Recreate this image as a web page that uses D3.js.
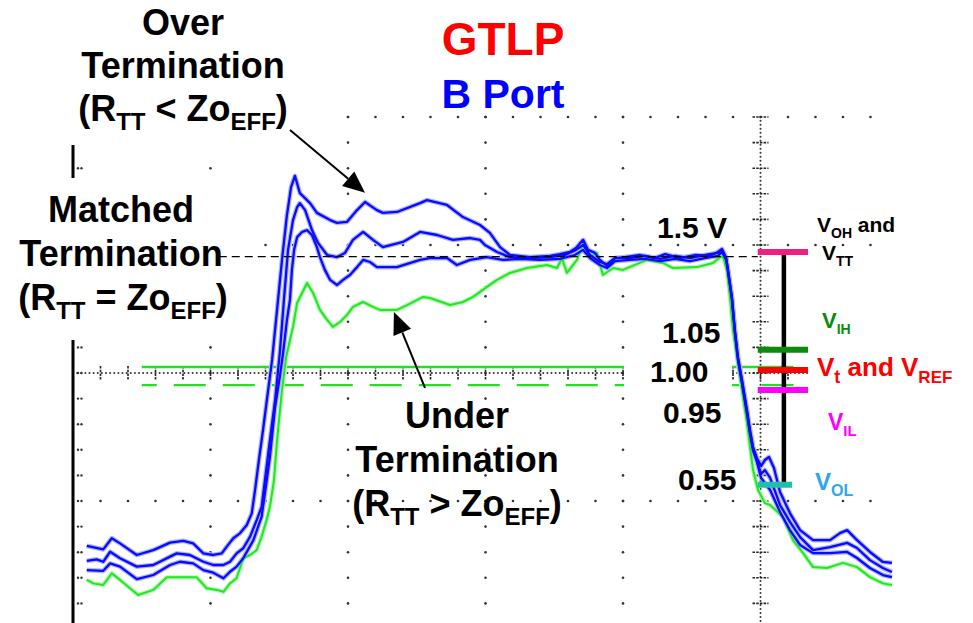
<!DOCTYPE html>
<html><head><meta charset="utf-8">
<script src="https://cdn.jsdelivr.net/npm/d3@7/dist/d3.min.js"></script>
<style>
html,body{margin:0;padding:0;background:#fff;}
svg{display:block;}
text{font-family:Arial,"Liberation Sans",Helvetica,sans-serif;font-weight:bold;white-space:pre;}
</style>
</head><body>
<svg id="c" width="973" height="623"></svg>
<script>
// ---- data: time in ns (1 ns per minor division), level in V ----
const overT = [0.50,1.10,1.41,1.71,2.32,2.92,3.53,4.01,4.37,4.74,5.10,5.41,5.59,5.83,6.07,6.32,6.50,6.62,6.76,6.91,7.05,7.24,7.42,7.60,7.78,7.93,8.07,8.25,8.62,8.87,9.35,9.60,9.96,10.33,10.62,11.05,11.27,11.78,12.62,12.87,13.60,14.18,14.80,15.16,15.53,15.89,16.62,17.35,17.71,18.07,18.29,18.55,18.73,18.98,19.16,19.42,19.71,20.07,20.62,21.16,21.53,22.07,22.62,23.16,23.45,23.60,23.75,23.82,23.96,24.07,24.18,24.33,24.51,24.62,24.73,24.87,25.02,25.16,25.31,25.49,25.71,26.07,26.44,26.91,27.53,27.89,28.15,28.51,28.98,29.45,29.78];
const overV = [0.257,0.242,0.290,0.268,0.218,0.239,0.271,0.279,0.268,0.225,0.218,0.225,0.254,0.290,0.311,0.347,0.397,0.497,0.626,0.755,0.884,1.056,1.271,1.486,1.679,1.799,1.847,1.773,1.730,1.688,1.657,1.645,1.649,1.700,1.735,1.700,1.688,1.692,1.730,1.743,1.722,1.670,1.636,1.602,1.541,1.507,1.498,1.503,1.511,1.520,1.537,1.572,1.529,1.516,1.486,1.460,1.494,1.498,1.507,1.494,1.511,1.494,1.507,1.503,1.520,1.533,1.494,1.443,1.327,1.185,1.069,0.970,0.841,0.755,0.682,0.635,0.600,0.626,0.639,0.592,0.489,0.398,0.325,0.282,0.282,0.312,0.325,0.282,0.231,0.188,0.184];

const matchedT = [0.50,0.86,1.10,1.35,1.71,2.32,2.92,3.53,3.77,4.25,4.74,5.10,5.47,5.71,5.95,6.19,6.44,6.68,6.86,6.98,7.16,7.35,7.53,7.67,7.82,8.00,8.15,8.25,8.44,8.69,8.91,9.24,9.60,9.89,10.18,10.55,10.91,11.27,12.00,12.62,13.24,13.82,14.44,14.80,14.98,15.42,15.89,16.62,17.35,17.89,18.29,18.55,18.80,19.16,19.42,19.71,20.25,20.80,21.35,21.89,22.44,22.98,23.45,23.60,23.75,23.82,23.96,24.07,24.18,24.33,24.51,24.62,24.73,24.87,25.02,25.16,25.35,25.71,26.07,26.44,26.91,27.53,28.15,28.51,28.98,29.45,29.78];
const matchedV = [0.193,0.199,0.189,0.232,0.204,0.168,0.175,0.211,0.225,0.218,0.189,0.175,0.175,0.189,0.225,0.247,0.297,0.368,0.425,0.540,0.712,0.884,1.099,1.314,1.529,1.657,1.713,1.730,1.700,1.614,1.559,1.507,1.498,1.516,1.572,1.606,1.572,1.541,1.563,1.606,1.593,1.572,1.580,1.572,1.550,1.520,1.498,1.494,1.498,1.507,1.529,1.550,1.507,1.477,1.468,1.494,1.494,1.503,1.490,1.503,1.494,1.507,1.516,1.529,1.494,1.438,1.322,1.176,1.064,0.961,0.832,0.746,0.673,0.626,0.566,0.583,0.549,0.433,0.360,0.295,0.239,0.252,0.270,0.248,0.196,0.162,0.145];

const lowBlueT = [0.50,1.10,1.35,1.71,2.32,2.92,3.53,3.89,4.37,4.74,5.10,5.47,5.71,5.95,6.19,6.56,6.86,6.98,7.16,7.35,7.53,7.64,7.78,7.89,7.96,8.04,8.15,8.33,8.51,8.69,8.87,8.98,9.16,9.35,9.60,9.82,10.07,10.33,10.55,10.80,11.05,11.27,11.78,12.62,12.98,13.60,13.96,14.44,15.05,15.64,16.25,16.98,17.71,18.25,18.55,18.80,19.16,19.42,19.71,20.25,20.80,21.35,21.89,22.44,22.98,23.45,23.60,23.75,23.82,23.96,24.07,24.18,24.33,24.51,24.62,24.73,24.87,25.02,25.35,25.71,26.07,26.44,26.91,27.53,28.15,28.51,28.98,29.45,29.78];
const lowBlueV = [0.153,0.150,0.182,0.168,0.114,0.132,0.175,0.189,0.182,0.153,0.142,0.118,0.146,0.168,0.204,0.282,0.383,0.484,0.639,0.854,0.991,1.086,1.228,1.314,1.443,1.529,1.584,1.606,1.614,1.593,1.541,1.498,1.443,1.400,1.378,1.400,1.421,1.455,1.486,1.477,1.455,1.455,1.455,1.486,1.494,1.494,1.464,1.486,1.498,1.486,1.490,1.486,1.490,1.507,1.529,1.494,1.464,1.451,1.481,1.486,1.490,1.481,1.490,1.481,1.494,1.503,1.520,1.486,1.434,1.318,1.172,1.056,0.953,0.824,0.738,0.665,0.618,0.549,0.497,0.403,0.325,0.261,0.226,0.226,0.231,0.205,0.162,0.132,0.123];

const underT = [0.50,0.74,1.10,1.41,1.71,2.37,2.92,3.41,4.50,4.86,5.23,5.47,5.71,5.95,6.19,6.44,6.68,6.86,7.04,7.16,7.31,7.42,7.60,7.75,7.89,8.00,8.15,8.33,8.51,8.73,8.98,9.24,9.45,9.71,9.96,10.18,10.55,10.91,11.16,11.78,12.15,12.73,12.98,13.71,14.18,14.55,15.05,15.42,15.89,16.51,17.24,17.60,17.78,17.96,18.33,18.55,18.80,19.05,19.27,19.64,20.00,20.87,21.45,21.82,22.69,23.27,23.53,23.64,23.78,23.89,24.00,24.18,24.33,24.51,24.62,24.73,24.91,25.16,25.35,25.82,26.18,26.55,26.91,27.42,28.00,28.51,28.98,29.45,29.78];
const underV = [0.111,0.096,0.089,0.139,0.111,0.046,0.068,0.122,0.122,0.075,0.068,0.060,0.096,0.118,0.204,0.218,0.239,0.297,0.368,0.425,0.540,0.712,0.927,1.069,1.142,1.198,1.301,1.344,1.387,1.344,1.271,1.228,1.198,1.219,1.249,1.284,1.305,1.284,1.271,1.271,1.292,1.327,1.322,1.292,1.305,1.327,1.370,1.400,1.430,1.451,1.464,1.451,1.494,1.430,1.486,1.559,1.498,1.516,1.421,1.451,1.443,1.486,1.473,1.451,1.455,1.473,1.498,1.498,1.443,1.327,1.185,1.043,0.927,0.785,0.682,0.583,0.497,0.441,0.433,0.381,0.282,0.226,0.166,0.162,0.184,0.166,0.123,0.096,0.089];

// reference levels drawn on the scope
const vttLevel = 1.5;                 // dashed 1.5 V line
const vttSpan = [5.3, 24.9];
const cursorLevels = [1.026, 0.948];  // green solid / dashed cursors
const cursorSpan = [2.5, 26.2];

// threshold markers at the right
const markerNames  = ["VOH/VTT", "VIH", "Vt/VREF", "VIL", "VOL"];
const markerLevels = [1.52, 1.10, 1.013, 0.927, 0.52];
const markerEnd    = [26.73, 26.73, 26.73, 26.73, 26.15];
const markerColors = ["#ee1f7e", "#0b8a0b", "#ff0000", "#ff00ff", "#1fc0aa"];
const markerStart = 24.9, barTime = 25.85;

// value labels
const valueLabels = ["1.5 V", "1.05", "1.00", "0.95", "0.55"];

// annotation arrows [time, level]
const arrowOver  = [[7.89, 2.044], [10.62, 1.774]];
const arrowUnder = [[12.8, 0.936], [11.67, 1.262]];

// graticule
const nsPerMinor = 1, minorPerDiv = 5, vPerMinor = 0.11, vPerDiv = 0.55;
const tLast = 29, vTop = 2.1;

// ---- scales ----
const x = d3.scaleLinear().domain([0, 25]).range([73, 760.5]);
const y = d3.scaleLinear().domain([1.0, 1.55]).range([373, 245]);

const svg = d3.select("#c");
const g = svg.append("g");

// ---- graticule ----
const grid = g.append("g").attr("fill", "#333");
const minorTs = d3.range(0, tLast + 0.001, nsPerMinor);
const minorVs = d3.range(0, 20).map(k => +(vTop - k * vPerMinor).toFixed(3));
const rowVs = [vTop, vTop - vPerDiv, 1.0 - vPerDiv];
rowVs.forEach(v => {
  minorTs.filter(t => t > 0).forEach(t => grid.append("circle").attr("cx", x(t)).attr("cy", y(v)).attr("r", 1.3));
});
[5, 10, 15, 20].forEach(t => {
  minorVs.forEach(v => grid.append("circle").attr("cx", x(t)).attr("cy", y(v)).attr("r", 1.3));
});
// left border ticks
minorVs.forEach(v => {
  grid.append("circle").attr("cx", x(0) + 5).attr("cy", y(v)).attr("r", 1.2);
  grid.append("circle").attr("cx", x(0) + 8.5).attr("cy", y(v)).attr("r", 1.2);
});
// centre horizontal axis
d3.range(0.15, tLast + 0.01, 0.15).forEach(t =>
  grid.append("circle").attr("cx", x(t)).attr("cy", y(1.0)).attr("r", 1.0));
minorTs.filter(t => t > 0).forEach(t => {
  grid.append("line").attr("x1", x(t)).attr("x2", x(t)).attr("y1", y(1.0) - 7).attr("y2", y(1.0) + 7)
    .attr("stroke", "#222").attr("stroke-width", 1.6).attr("stroke-dasharray", "2.5,1.2");
});
// centre vertical axis
d3.range(-0.1, vTop + 0.001, 0.0172).forEach(v =>
  grid.append("circle").attr("cx", x(25)).attr("cy", y(v)).attr("r", 1.0));
minorVs.forEach(v => {
  grid.append("line").attr("x1", x(25) - 8).attr("x2", x(25) + 8).attr("y1", y(v)).attr("y2", y(v))
    .attr("stroke", "#222").attr("stroke-width", 1.6).attr("stroke-dasharray", "2.5,1.2");
});
// left border
g.append("line").attr("x1", x(0)).attr("x2", x(0)).attr("y1", y(1.98)).attr("y2", 623)
  .attr("stroke", "#000").attr("stroke-width", 3);

// ---- label backgrounds that hide the graticule ----
const bg = g.append("g").attr("fill", "#fff");
bg.append("rect").attr("x", 0).attr("y", 0).attr("width", 335).attr("height", 145);
bg.append("rect").attr("x", 0).attr("y", 178).attr("width", 245).attr("height", 162);
bg.append("rect").attr("x", 808).attr("y", 355).attr("width", 160).attr("height", 37);

// ---- cursors and reference line ----
g.append("line").attr("x1", x(cursorSpan[0])).attr("x2", x(cursorSpan[1]))
  .attr("y1", y(cursorLevels[0])).attr("y2", y(cursorLevels[0]))
  .attr("stroke", "#22e022").attr("stroke-width", 2.4);
g.append("line").attr("x1", x(cursorSpan[0])).attr("x2", x(cursorSpan[1]))
  .attr("y1", y(cursorLevels[1])).attr("y2", y(cursorLevels[1]))
  .attr("stroke", "#22e022").attr("stroke-width", 2.4)
  .attr("stroke-dasharray", "32,17").attr("stroke-dashoffset", 17);
// hide graticule and cursors under the "1.00" label
g.append("rect").attr("x", 624).attr("y", 355).attr("width", 108).attr("height", 38).attr("fill", "#fff");

// ---- traces ----
const line = d3.line().x(d => x(d[0])).y(d => y(d[1]));
const traces = [
  {t: underT, v: underV, col: "#1ee81e", halo: "#b6f7b6", w: 2},
  {t: lowBlueT, v: lowBlueV, col: "#0a0aff", halo: "#aeb6ff", w: 2.3},
  {t: matchedT, v: matchedV, col: "#0a0aff", halo: "#aeb6ff", w: 2.3},
  {t: overT, v: overV, col: "#0a0aff", halo: "#aeb6ff", w: 2.3}
];
traces.forEach(tr => {
  const pts = d3.zip(tr.t, tr.v);
  g.append("path").datum(pts).attr("d", line).attr("fill", "none")
    .attr("stroke", tr.halo).attr("stroke-width", tr.w + 2.4).attr("stroke-linejoin", "round");
});
traces.forEach(tr => {
  const pts = d3.zip(tr.t, tr.v);
  g.append("path").datum(pts).attr("d", line).attr("fill", "none")
    .attr("stroke", tr.col).attr("stroke-width", tr.w).attr("stroke-linejoin", "round");
});

// dashed 1.5 V line
g.append("line").attr("x1", x(vttSpan[0])).attr("x2", x(vttSpan[1]))
  .attr("y1", y(vttLevel)).attr("y2", y(vttLevel))
  .attr("stroke", "#000").attr("stroke-width", 1.4).attr("stroke-dasharray", "8,5");

// ---- threshold markers ----
g.append("line").attr("x1", x(barTime)).attr("x2", x(barTime))
  .attr("y1", y(markerLevels[0])).attr("y2", y(markerLevels[4]))
  .attr("stroke", "#000").attr("stroke-width", 4.5);
markerLevels.forEach((lv, i) => {
  g.append("line").attr("x1", x(markerStart)).attr("x2", x(markerEnd[i]))
    .attr("y1", y(lv)).attr("y2", y(lv))
    .attr("stroke", markerColors[i]).attr("stroke-width", 6);
});

// ---- arrows ----
function arrow(a) {
  const x0 = x(a[0][0]), y0 = y(a[0][1]), x1 = x(a[1][0]), y1 = y(a[1][1]);
  const ang = Math.atan2(y1 - y0, x1 - x0), L = 22, W = 9.5;
  const bx = x1 - L * Math.cos(ang), by = y1 - L * Math.sin(ang);
  g.append("line").attr("x1", x0).attr("y1", y0).attr("x2", bx).attr("y2", by)
    .attr("stroke", "#000").attr("stroke-width", 2);
  g.append("polygon").attr("fill", "#000").attr("points", [
    [x1, y1], [bx - W * Math.sin(ang), by + W * Math.cos(ang)], [bx + W * Math.sin(ang), by - W * Math.cos(ang)]
  ].map(p => p.join(",")).join(" "));
}
arrow(arrowOver);
arrow(arrowUnder);

// ---- texts ----
function rich(px, py, parts, anchor, color) {
  const t = g.append("text").attr("x", px).attr("y", py).attr("text-anchor", anchor || "start").attr("fill", color || "#000");
  let shift = 0;
  parts.forEach(([s, size, sub]) => {
    const target = sub || 0;
    t.append("tspan").attr("font-size", size).attr("dy", target - shift).text(s);
    shift = target;
  });
  return t;
}
const F = 36, S = 24, D = 9;
rich(183, 35, [["Over", F]], "middle");
rich(183, 78, [["Termination", F]], "middle");
rich(183, 121, [["(R", F], ["TT", S, D], [" < Zo", F], ["EFF", S, D], [")", F]], "middle");
rich(121, 222, [["Matched", F]], "middle");
rich(121, 266, [["Termination", F]], "middle");
rich(123, 310, [["(R", F], ["TT", S, D], [" = Zo", F], ["EFF", S, D], [")", F]], "middle");
rich(457, 428, [["Under", F]], "middle");
rich(457, 472, [["Termination", F]], "middle");
rich(457, 516, [["(R", F], ["TT", S, D], [" > Zo", F], ["EFF", S, D], [")", F]], "middle");

rich(503, 55, [["GTLP", 46]], "middle", "#ff0000");
rich(503, 108, [["B Port", 41]], "middle", "#0000ff");

const valPos = [[657, 238], [662, 343], [650, 382], [663, 423], [678, 490]];
valueLabels.forEach((s, i) => rich(valPos[i][0], valPos[i][1], [[s, 30]]));

rich(817, 232, [["V", 21], ["OH", 14, 6], [" and", 21]]);
rich(822, 260, [["V", 21], ["TT", 14, 6]]);
rich(822, 328, [["V", 22], ["IH", 14, 6]], "start", "#0b8a0b");
rich(817, 376, [["V", 26], ["t", 18, 7], [" and V", 26], ["REF", 17, 7]], "start", "#ff0000");
rich(828, 430, [["V", 23], ["IL", 15, 6]], "start", "#ff00ff");
rich(815, 490, [["V", 24], ["OL", 16, 6]], "start", "#2aa8ee");
</script>
</body></html>
